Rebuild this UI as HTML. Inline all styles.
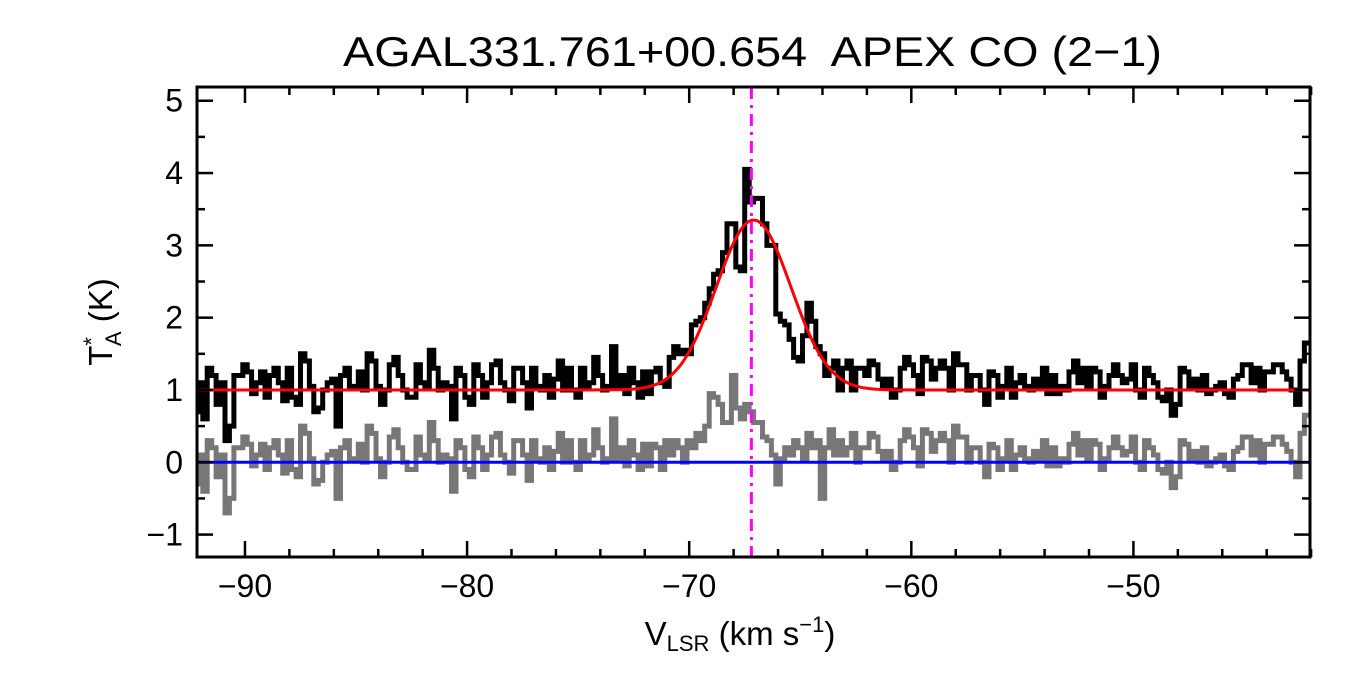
<!DOCTYPE html>
<html><head><meta charset="utf-8">
<style>
html,body{margin:0;padding:0;background:#fff;}
svg{display:block;font-family:"Liberation Sans",Arial,sans-serif;}
</style></head>
<body>
<svg id="chart" width="1350" height="675" viewBox="0 0 1350 675" xmlns="http://www.w3.org/2000/svg">
<text x="343" y="66" font-size="42" textLength="819" lengthAdjust="spacingAndGlyphs" xml:space="preserve">AGAL331.761+00.654  APEX CO (2−1)</text>
<g id="plot"></g>
<g id="axes"></g>
<text x="740" y="645" font-size="33" text-anchor="middle">V<tspan font-size="22" dy="6">LSR</tspan><tspan dy="-6"> (km s</tspan><tspan font-size="22" dy="-13">−1</tspan><tspan dy="13">)</tspan></text>
<text transform="translate(112,322) rotate(-90)" font-size="33" text-anchor="middle">T<tspan font-size="22" dy="-13">*</tspan><tspan font-size="22" dx="-9" dy="22">A</tspan><tspan dy="-9"> (K)</tspan></text>
</svg>
<script>
const xTicks=[-90,-80,-70,-60,-50];
const yTicks=[-1,0,1,2,3,4,5];
const vStart=-92.2, dv=0.2;
const fitBase=1.0, fitAmp=2.35, fitCenter=-67.1, fitSigma=1.68;
const vMarker=-67.2;
const spectrum=[
0.7,1.1,0.6,1.3,1.2,0.8,1.1,0.3,0.5,1.2,1.2,1.35,1.25,0.95,1.1,1.25,0.9,1.2,1.3,1.1,0.85,1.3,0.9,0.8,1.5,1.4,1.05,0.7,0.75,1.0,
1.1,1.15,0.5,1.2,1.3,1.05,1.05,1.25,1.0,1.5,1.4,1.05,0.8,1.0,1.35,1.45,1.2,1.0,0.9,0.9,1.35,1.1,1.05,1.55,1.3,1.0,1.1,1.05,0.6,1.3,
1.2,0.9,0.8,1.35,1.2,0.9,1.1,1.35,1.4,1.1,1.0,0.85,1.3,1.3,1.1,0.75,1.3,1.05,1.0,1.2,0.9,1.15,1.4,1.0,1.3,1.0,0.9,1.3,1.05,1.1,
1.45,1.2,1.0,1.05,1.6,1.05,1.2,0.95,1.3,1.1,0.9,1.25,0.95,1.25,1.3,1.1,1.05,1.45,1.6,1.5,1.55,1.5,1.9,1.95,2.0,2.2,2.4,2.6,2.65,2.9,3.3,3.3,2.7,2.65,4.05,3.6,
3.65,3.65,3.3,3.0,3.0,2.05,1.95,1.9,1.7,1.45,1.4,1.75,2.2,1.95,1.6,1.5,1.2,1.3,1.4,1.0,1.3,1.4,1.0,1.3,1.3,1.2,1.4,1.35,1.15,1.05,
1.15,0.9,1.0,1.3,1.45,1.35,1.2,0.95,1.45,1.4,1.15,1.3,1.4,1.3,1.0,1.5,1.35,1.35,1.0,1.2,1.2,1.0,0.8,1.25,1.2,0.9,1.05,1.3,0.9,1.1,
1.2,1.05,1.0,1.15,1.05,1.3,0.95,1.2,0.95,1.05,1.0,1.25,1.4,1.1,1.3,1.05,1.3,1.25,0.9,1.05,1.2,1.35,1.2,1.1,
1.15,1.35,1.0,0.9,1.3,1.2,1.1,0.9,0.85,1.0,0.65,0.8,1.3,1.25,1.05,1.15,1.0,1.2,0.95,1.0,1.05,1.1,0.95,0.9,1.15,1.2,1.35,1.35,1.1,1.3,
1.0,1.25,1.25,1.35,1.35,1.25,1.15,1.0,0.8,1.4,1.65
];
const residual=[
-0.3,0.1,-0.4,0.3,0.2,-0.2,0.1,-0.7,-0.5,0.2,0.2,0.35,0.25,-0.05,0.1,0.25,-0.1,0.2,0.3,0.1,-0.15,0.3,-0.1,-0.2,0.5,0.4,0.05,-0.3,-0.25,0.0,
0.1,0.15,-0.5,0.2,0.3,0.05,0.05,0.25,0.0,0.5,0.4,0.05,-0.2,0.0,0.35,0.45,0.2,0.0,-0.1,-0.1,0.35,0.1,0.05,0.55,0.3,0.0,0.1,0.05,-0.4,0.3,
0.2,-0.1,-0.2,0.35,0.2,-0.1,0.1,0.35,0.4,0.1,0.0,-0.15,0.3,0.3,0.1,-0.25,0.3,0.05,0.0,0.2,-0.1,0.15,0.4,0.0,0.3,0.0,-0.1,0.3,0.05,0.1,
0.45,0.2,0.0,0.05,0.6,0.05,0.2,-0.05,0.3,0.1,-0.1,0.25,-0.05,0.25,
0.2,-0.1,0.3,0.1,0.3,0.2,0.0,0.3,0.2,0.4,0.3,0.5,0.95,0.9,0.8,0.55,0.55,1.2,0.75,0.6,0.8,0.7,0.55,0.55,0.35,0.3,0.1,-0.3,0.05,0.2,
0.1,0.3,0.2,0.05,0.4,0.2,0.3,-0.5,0.2,0.45,0.1,0.3,0.1,0.2,0.4,0.0,0.2,
0.2,0.4,0.35,0.15,0.05,
0.15,-0.1,0.0,0.3,0.45,0.35,0.2,-0.05,0.45,0.4,0.15,0.3,0.4,0.3,0.0,0.5,0.35,0.35,0.0,0.2,0.2,0.0,-0.2,0.25,0.2,-0.1,0.05,0.3,-0.1,0.1,
0.2,0.05,0.0,0.15,0.05,0.3,-0.05,0.2,-0.05,0.05,0.0,0.25,0.4,0.1,0.3,0.05,0.3,0.25,-0.1,0.05,0.2,0.35,0.2,0.1,
0.15,0.35,0.0,-0.1,0.3,0.2,0.1,-0.1,-0.15,0.0,-0.35,-0.2,0.3,0.25,0.05,0.15,0.0,0.2,-0.05,0.0,0.05,0.1,-0.05,-0.1,0.15,0.2,0.35,0.35,0.1,0.3,
0.0,0.25,0.25,0.35,0.35,0.25,0.15,0.0,-0.2,0.4,0.65
];
const X0=197,X1=1310,Y0=87,Y1=557;
const xMin=-92.16,xMax=-42.05,yMin=-1.31,yMax=5.19;
const sx=v=>X0+(v-xMin)/(xMax-xMin)*(X1-X0);
const sy=t=>Y1-(t-yMin)/(yMax-yMin)*(Y1-Y0);
const NS="http://www.w3.org/2000/svg";
const plot=document.getElementById('plot'), axes=document.getElementById('axes');
function mk(tag,attrs,parent){const e=document.createElementNS(NS,tag);for(const k in attrs)e.setAttribute(k,attrs[k]);parent.appendChild(e);return e;}
const fit=v=>fitBase+fitAmp*Math.exp(-0.5*Math.pow((v-fitCenter)/fitSigma,2));
function stepPath(vals){let d='';for(let i=0;i<vals.length;i++){const xa=Math.max(X0,sx(vStart+i*dv-dv/2)),xb=Math.min(X1,sx(vStart+i*dv+dv/2)),y=sy(vals[i]);d+=(i?'L':'M')+xa.toFixed(1)+','+y.toFixed(1)+'L'+xb.toFixed(1)+','+y.toFixed(1);}return d;}
const cp=mk('clipPath',{id:'clip'},plot);mk('rect',{x:X0,y:Y0,width:X1-X0,height:Y1-Y0},cp);
const g=mk('g',{'clip-path':'url(#clip)'},plot);
let p=mk('path',{d:stepPath(residual),fill:'none',stroke:'#777',"stroke-width":5},g);


p=mk('line',{x1:X0,x2:X1,y1:sy(0),y2:sy(0),stroke:'#0000ff',"stroke-width":3},g);


p=mk('path',{d:stepPath(spectrum),fill:'none',stroke:'#000',"stroke-width":5},g);


let d='';for(let x=X0;x<=X1;x+=2){const v=xMin+(x-X0)/(X1-X0)*(xMax-xMin);d+=(x==X0?'M':'L')+x+','+sy(fit(v)).toFixed(1);}
p=mk('path',{d:d,fill:'none',stroke:'#ff0000',"stroke-width":3},g);


p=mk('line',{x1:sx(vMarker),x2:sx(vMarker),y1:Y0,y2:Y1,stroke:'#ff00ff',"stroke-width":3,"stroke-dasharray":"12,6,3,6"},g);


p=mk('rect',{x:X0,y:Y0,width:X1-X0,height:Y1-Y0,fill:'none',stroke:'#000',"stroke-width":3},axes);


for(let v=-90;v<=-42;v+=2){const x=sx(v),L=(v%10===0)?16:8;mk('line',{x1:x,x2:x,y1:Y1,y2:Y1-L,stroke:'#000',"stroke-width":2.5},axes);mk('line',{x1:x,x2:x,y1:Y0,y2:Y0+L,stroke:'#000',"stroke-width":2.5},axes);}
xTicks.forEach(v=>{const t=mk('text',{x:sx(v),y:Y1+40,"font-size":32,"text-anchor":"middle"},axes);t.textContent=String(v).replace('-','−');

});
for(let k=-1.0;k<=5.01;k+=0.5){const y=sy(k),L=(Math.abs(k-Math.round(k))<0.01)?16:8;mk('line',{x1:X0,x2:X0+L,y1:y,y2:y,stroke:'#000',"stroke-width":2.5},axes);mk('line',{x1:X1,x2:X1-L,y1:y,y2:y,stroke:'#000',"stroke-width":2.5},axes);}
yTicks.forEach(v=>{const t=mk('text',{x:X0-14,y:sy(v)+11,"font-size":32,"text-anchor":"end"},axes);t.textContent=String(v).replace('-','−');

});
</script>
</body></html>
